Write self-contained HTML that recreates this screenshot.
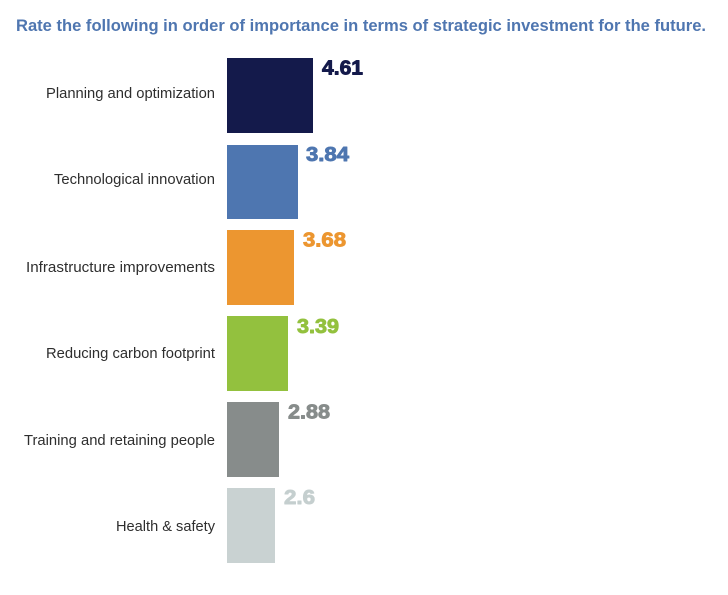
<!DOCTYPE html>
<html>
<head>
<meta charset="utf-8">
<style>
  html, body { margin: 0; padding: 0; background: #ffffff; }
  svg { display: block; }
</style>
</head>
<body>
<svg width="728" height="595" viewBox="0 0 728 595" xmlns="http://www.w3.org/2000/svg">
  <rect width="728" height="595" fill="#ffffff"/>
  <!-- Title -->
  <text x="16" y="31" font-family="Liberation Sans, sans-serif" font-weight="bold" font-size="16.5" fill="#4f76b0" textLength="690" lengthAdjust="spacingAndGlyphs">Rate the following in order of importance in terms of strategic investment for the future.</text>

  <!-- Bars -->
  <rect x="227" y="58" width="86" height="75" fill="#141a4b"/>
  <rect x="227" y="145" width="71" height="74" fill="#4e76b0"/>
  <rect x="227" y="230" width="67" height="75" fill="#ec9630"/>
  <rect x="227" y="316" width="61" height="75" fill="#93c13e"/>
  <rect x="227" y="402" width="52" height="75" fill="#878c8b"/>
  <rect x="227" y="488" width="48" height="75" fill="#c9d2d2"/>

  <!-- Category labels -->
  <g font-family="Liberation Sans, sans-serif" font-size="15" fill="#2e2e2e">
    <text x="46" y="98" textLength="169" lengthAdjust="spacingAndGlyphs">Planning and optimization</text>
    <text x="54" y="184" textLength="161" lengthAdjust="spacingAndGlyphs">Technological innovation</text>
    <text x="26" y="272" textLength="189" lengthAdjust="spacingAndGlyphs">Infrastructure improvements</text>
    <text x="46" y="358" textLength="169" lengthAdjust="spacingAndGlyphs">Reducing carbon footprint</text>
    <text x="24" y="445" textLength="191" lengthAdjust="spacingAndGlyphs">Training and retaining people</text>
    <text x="116" y="531" textLength="99" lengthAdjust="spacingAndGlyphs">Health &amp; safety</text>
  </g>

  <!-- Values -->
  <g font-family="Liberation Sans, sans-serif" font-weight="bold" font-size="20" stroke-width="0.9" stroke-linejoin="round">
    <text x="322" y="74.5" fill="#141a4b" stroke="#141a4b" textLength="41" lengthAdjust="spacingAndGlyphs">4.61</text>
    <text x="306" y="161" fill="#4e76b0" stroke="#4e76b0" textLength="43" lengthAdjust="spacingAndGlyphs">3.84</text>
    <text x="303" y="246.5" fill="#ec9630" stroke="#ec9630" textLength="43" lengthAdjust="spacingAndGlyphs">3.68</text>
    <text x="297" y="333" fill="#93c13e" stroke="#93c13e" textLength="42" lengthAdjust="spacingAndGlyphs">3.39</text>
    <text x="288" y="418.5" fill="#878c8b" stroke="#878c8b" textLength="42" lengthAdjust="spacingAndGlyphs">2.88</text>
    <text x="284" y="504" fill="#c5cfcf" stroke="#c5cfcf" textLength="31" lengthAdjust="spacingAndGlyphs">2.6</text>
  </g>
</svg>
</body>
</html>
